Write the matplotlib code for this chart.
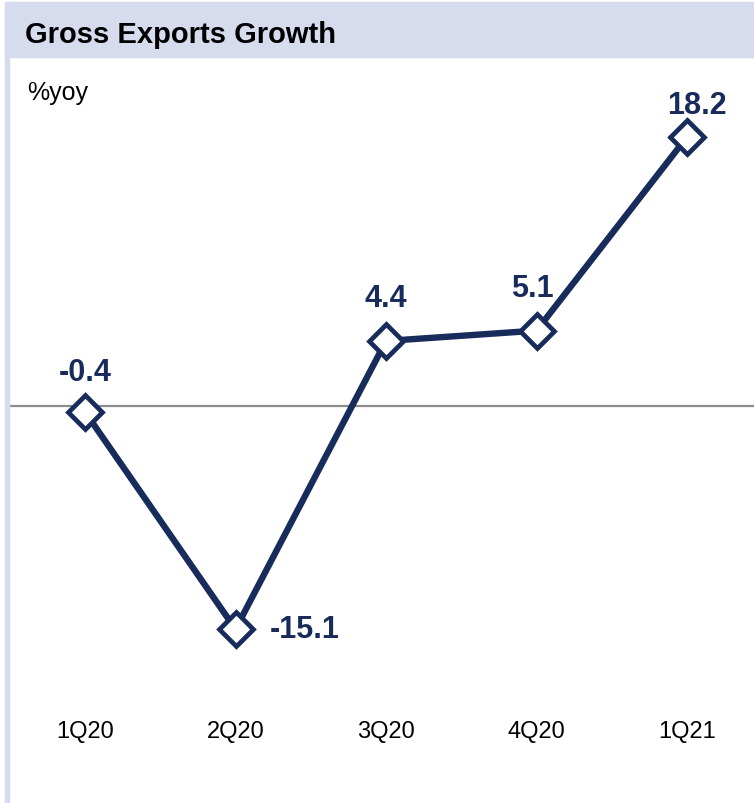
import matplotlib
matplotlib.use("Agg")
import matplotlib.pyplot as plt
from matplotlib.patches import Rectangle

# ── data ────────────────────────────────────────────────────────────────────
quarters = ["1Q20", "2Q20", "3Q20", "4Q20", "1Q21"]
growth = [-0.4, -15.1, 4.4, 5.1, 18.2]
label_text = ["-0.4", "-15.1", "4.4", "5.1", "18.2"]

NAVY = "#182C5C"
BAND = "#D6DBED"
W, H = 754, 804

plt.rcParams["font.family"] = ["Liberation Sans", "DejaVu Sans"]

fig = plt.figure(figsize=(W / 100, H / 100), dpi=100)


def fx(px):
    return px / W


def fy(py):
    return 1 - py / H


# title band + left border
fig.patches.append(Rectangle((fx(5), fy(58)), fx(754 - 5), 55 / H,
                             transform=fig.transFigure, color=BAND, zorder=0))
fig.patches.append(Rectangle((fx(5), 0), fx(4), fy(3),
                             transform=fig.transFigure, color=BAND, zorder=0))
fig.text(fx(25), fy(35), "Gross Exports Growth", fontsize=21, fontweight="bold",
         ha="left", va="center", color="black")
fig.text(fx(27), fy(93), "%yoy", fontsize=18, ha="left", va="center", color="black")

# axes in pixel geometry
ax_left, ax_right, ax_top, ax_bot = 9, 754, 60, 690
ax = fig.add_axes([fx(ax_left), fy(ax_bot), fx(ax_right - ax_left), (ax_bot - ax_top) / H])
x0, dx = 85, 150.5
y0, dy = 407, 14.78
ax.set_xlim((ax_left - x0) / dx, (ax_right - x0) / dx)
ax.set_ylim(-(ax_bot - y0) / dy, (y0 - ax_top) / dy)
ax.axis("off")

xs = list(range(len(quarters)))
ax.axhline(0, color="#8C8C8C", lw=1.6, zorder=1)
ax.plot(xs, growth, color=NAVY, lw=4.6, marker="D", markersize=17,
        markerfacecolor="white", markeredgecolor=NAVY, markeredgewidth=3.4,
        zorder=3, clip_on=False)

# value labels (offsets in points)
offsets = [(0, 29), (50, 0), (0, 31), (-3, 31), (7, 23)]
for x, v, t, off in zip(xs, growth, label_text, offsets):
    ax.annotate(t, (x, v), xytext=off, textcoords="offset points",
                ha="center", va="center", fontsize=22, fontweight="bold",
                color=NAVY, zorder=4)

# category labels
for x, q in zip(xs, quarters):
    ax.text(x, -(732 - y0) / dy, q, ha="center", va="center", fontsize=17,
            color="black")

fig.savefig("out.png", dpi=100)
